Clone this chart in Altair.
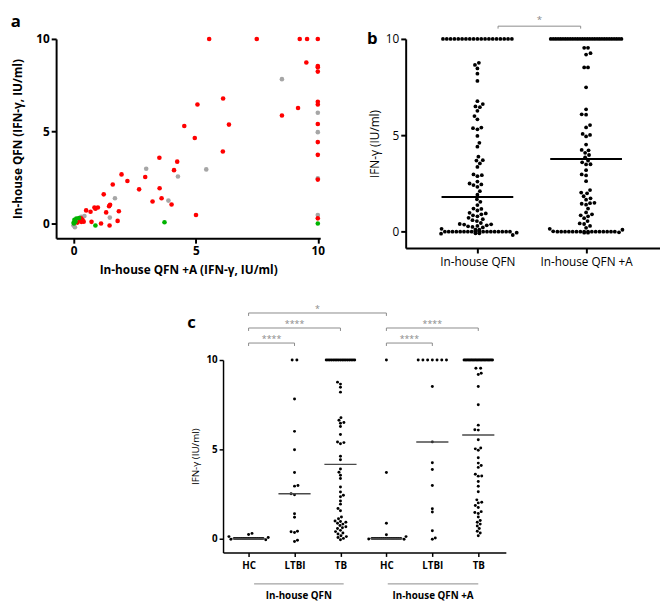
import altair as alt
import pandas as pd
from collections import Counter

FONT = "Open Sans"

# ---------------- Panel a: paired values (x = In-house QFN +A, y = In-house QFN) ----------------
tb_a_x = [5.55, 7.5, 9.26, 9.56, 10,
          9.53, 10, 10, 10, 10, 10, 10, 10, 10, 10, 10,
          9.19, 8.53, 6.36, 6.12, 5.07, 4.53, 4.96, 6.11, 3.51, 4.24, 4.11, 2.93, 2.68, 3.52, 3.6, 3.23, 4.01, 5.01,
          1.96, 2.2, 1.6, 1.23, 1.49, 1.45, 0.85, 0.99, 0.89, 0.69, 1.33, 1.85, 0.51, 1.8, 1.12, 0.73, 1.47,
          0.25, 0.36, 0.41, 0.31, 0.15, 0.3]
tb_a_y = [10, 10, 10, 10, 10,
          8.72, 8.53, 8.47, 8.23, 6.6, 6.45, 5.39, 4.41, 3.72, 2.38, 0.28,
          6.26, 5.85, 5.36, 6.77, 6.45, 5.28, 4.63, 3.9, 3.56, 3.35, 2.89, 2.52, 1.85, 1.91, 1.37, 1.19, 1.03, 0.46,
          2.66, 2.3, 2.11, 1.58, 1.01, 0.94, 0.87, 0.87, 0.8, 0.64, 0.6, 0.66, 0.71, 0.14, 0.0, 0.09, -0.11,
          0.23, 0.2, 0.1, 0.09, 0.05, 0.28]
ltbi_a_x = [8.53, 10, 10, 10, 10, 2.97, 5.43, 4.27, 1.69, 3.88, 1.48, 0.44, -0.01, 0.05, 0.31]
ltbi_a_y = [7.82, 6.0, 4.95, 2.45, 0.46, 2.97, 2.93, 2.55, 1.37, 1.24, 0.32, 0.41, -0.1, -0.2, 0.36]
hc_a_x = [10, 3.72, 0.89, 0.11, 0.07, 0.01, 0.03, 0.22, 0.0]
hc_a_y = [0, 0.07, -0.11, 0.27, 0.1, 0.0, 0.2, 0.3, 0.05]

# ---------------- Panel c (pooled for panel b) ----------------
qfn_hc = [0.28, 0.22, 0.10, 0.05, 0, 0, 0, 0, 0, 0, 0, 0, 0, 0, 0, 0, 0, 0, 0, 0, 0, -0.05, -0.08]
qfn_ltbi = [10, 10, 7.82, 6.0, 4.97, 3.69, 2.97, 2.93, 2.5, 2.45, 1.38, 1.18, 0.4, 0.37, 0.33, -0.1, -0.17]
qfn_tb = [10, 10, 10, 10, 10, 10, 10, 10, 10, 10, 10, 10, 10, 10, 10, 10, 10,
          8.76, 8.65, 8.47, 8.2, 6.77, 6.62, 6.5, 6.46, 6.27, 5.83, 5.4, 5.37, 5.31, 4.61, 4.41,
          3.89, 3.71, 3.54, 3.36, 2.88, 2.6, 2.42, 2.33, 2.1, 1.92, 1.68, 1.55,
          1.2, 1.1, 0.98, 0.95, 0.9, 0.85, 0.8, 0.72, 0.65, 0.6, 0.55, 0.45, 0.38, 0.3, 0.25, 0.15,
          0.1, 0.05, 0.0, -0.08]
qfna_hc = [10, 3.69, 0.85, 0.20, 0.10, 0, 0, 0, 0, 0, 0, 0, 0, 0, 0, 0, 0, 0, 0, 0, 0, -0.03, -0.05]
qfna_ltbi = [10, 10, 10, 10, 10, 10, 10, 8.52, 5.41, 4.24, 3.86, 2.97, 1.66, 1.48, 0.43, 0.02, -0.05]
qfna_tb = [10, 10, 10, 10, 10, 10, 10, 10, 10, 10, 10, 10, 10, 10, 10, 10, 10, 10, 10, 10, 10, 10,
           9.54, 9.54, 9.26, 9.19, 8.52, 7.49, 6.35, 6.09, 6.07, 5.53, 5.07, 5.02, 4.94, 4.52,
           4.22, 4.09, 3.98, 3.6, 3.5, 3.49, 3.19, 2.92, 2.62, 2.16,
           2.03, 1.99, 1.84, 1.73, 1.5, 1.45, 1.4, 1.2, 1.0, 0.9, 0.8, 0.7, 0.55, 0.4, 0.3, 0.15]

c_labels = ["HC", "LTBI", "TB", "HC", "LTBI", "TB"]
c_columns = [qfn_hc, qfn_ltbi, qfn_tb, qfna_hc, qfna_ltbi, qfna_tb]
assay_names = ["In-house QFN", "In-house QFN +A"]

# significance annotations: (from, to, stars, bracket level)
c_sig = [(0, 3, "*", 3), (0, 2, "****", 2), (0, 1, "****", 1),
         (3, 5, "****", 2), (3, 4, "****", 1)]
b_sig = [(0.19, 0.95, "*", 1)]
c_groups = [(0.12, 2.07, assay_names[0]), (3.03, 5.0, assay_names[1])]

GREY = "#8a8a8a"


# ---------------- helpers ----------------
def swarm(vals, ppu_y, diam, tie_step, max_w):
    n = len(vals)
    offs = [0.0] * n
    placed = []
    cnt = Counter(vals)
    for v in sorted(cnt):
        c = cnt[v]
        if c >= 2:
            s = min(tie_step, max_w / (c - 1))
            idx = [i for i in range(n) if vals[i] == v]
            for k, i in enumerate(idx):
                offs[i] = (k - (c - 1) / 2) * s
                placed.append((offs[i], v * ppu_y))
    order = sorted((i for i in range(n) if cnt[vals[i]] == 1), key=lambda i: vals[i])
    flip = 1
    for i in order:
        y = vals[i] * ppu_y
        k = 0
        found = None
        while found is None:
            cands = [0.0] if k == 0 else [flip * k * 0.5, -flip * k * 0.5]
            for x in cands:
                if all((x - px) ** 2 + (y - py) ** 2 >= diam * diam * 0.97 for px, py in placed):
                    found = x
                    break
            k += 1
        if found != 0:
            flip = -flip
        offs[i] = found
        placed.append((found, y))
    return offs


def lin(domain):
    return alt.Scale(domain=domain, nice=False, zero=False)


def text_layer(txt, x, y, size, weight="bold"):
    return alt.Chart(pd.DataFrame({"t": [txt]})).mark_text(
        text=txt, fontSize=size, fontWeight=weight, font=FONT, color="black",
        align="center", baseline="middle").encode(x=alt.value(x), y=alt.value(y))


def bracket_layers(ds, X, Y, fs, dy):
    h = alt.Chart(ds).mark_rule(color=GREY, strokeWidth=1).encode(x=X("x1:Q"), x2="x2:Q", y=Y("y:Q"))
    l = alt.Chart(ds).mark_rule(color=GREY, strokeWidth=1).encode(x=X("x1:Q"), y=Y("y:Q"), y2="yl:Q")
    r = alt.Chart(ds).mark_rule(color=GREY, strokeWidth=1).encode(x=X("x2:Q"), y=Y("y:Q"), y2="yl:Q")
    t = alt.Chart(ds).mark_text(color=GREY, fontSize=fs, font=FONT, baseline="alphabetic", dy=dy).encode(
        x=X("xm:Q"), y=Y("y:Q"), text="lab:N")
    return [h, l, r, t]


# ---------------- Panel a ----------------
A_W, A_H = 269, 203
a_dx, a_dy = [-0.72, 10.1], [-0.8, 10]
rows = []
for xs, ys, g in [(ltbi_a_x, ltbi_a_y, "LTBI"), (tb_a_x, tb_a_y, "TB"), (hc_a_x, hc_a_y, "HC")]:
    for xv, yv in zip(xs, ys):
        rows.append({"x": xv, "y": yv, "g": g})
dfa = pd.DataFrame(rows)
dfa["o"] = range(len(dfa))

axis_a = dict(domainColor="black", domainWidth=2, tickColor="black", tickWidth=2, tickSize=5,
              labelFontSize=12, labelFontWeight="bold", labelColor="black", labelFont=FONT,
              titleFontSize=12, titleFontWeight="bold", titleColor="black", titleFont=FONT, grid=False)
pts_a = alt.Chart(dfa).mark_circle(size=22, opacity=1).encode(
    x=alt.X("x:Q", scale=lin(a_dx), axis=alt.Axis(values=[0, 5, 10], title="In-house QFN +A (IFN-γ, IU/ml)",
                                                   titlePadding=8, labelPadding=3, **axis_a)),
    y=alt.Y("y:Q", scale=lin(a_dy), axis=alt.Axis(values=[0, 5, 10], title="In-house QFN (IFN-γ, IU/ml)",
                                                   titlePadding=12, **axis_a)),
    color=alt.Color("g:N", scale=alt.Scale(domain=["LTBI", "TB", "HC"], range=["#a6a6a6", "#ff0000", "#00b300"]),
                    legend=None),
    order=alt.Order("o:Q"),
)
chart_a = alt.layer(pts_a, text_layer("a", -41, -17, 17)).properties(width=A_W, height=A_H)

# ---------------- Panel b ----------------
B_W, B_H = 259, 213
b_dx, b_dy = [-0.66, 1.68], [-0.85, 10]
bx_ppu = B_W / (b_dx[1] - b_dx[0])
by_ppu = B_H / (b_dy[1] - b_dy[0])
rows = []
for k, vals in enumerate([qfn_hc + qfn_ltbi + qfn_tb, qfna_hc + qfna_ltbi + qfna_tb]):
    offs = swarm(vals, by_ppu, 4.3, 3.9, 72)
    for v, o in zip(vals, offs):
        rows.append({"cat": k, "v": v, "xp": k + o / bx_ppu})
dfb = pd.DataFrame(rows)

axis_b = dict(domainColor="black", domainWidth=2, tickColor="black", tickWidth=2, tickSize=5,
              labelFontSize=12, labelFontWeight="normal", labelColor="black", labelFont=FONT,
              titleFontSize=12, titleFontWeight="normal", titleColor="black", titleFont=FONT, grid=False)
b_xaxis = alt.Axis(values=[0, 1], title=None, labelPadding=4,
                   labelExpr="datum.value == 0 ? '%s' : '%s'" % (assay_names[0], assay_names[1]), **axis_b)
b_yaxis = alt.Axis(values=[0, 5, 10], title="IFN-γ (IU/ml)", titlePadding=4, **axis_b)


def XB(f):
    return alt.X(f, scale=lin(b_dx), axis=b_xaxis)


def YB(f):
    return alt.Y(f, scale=lin(b_dy), axis=b_yaxis)


pts_b = alt.Chart(dfb).mark_circle(size=15, color="black", opacity=1).encode(x=XB("xp:Q"), y=YB("v:Q"))
med_b = alt.Chart(dfb).transform_aggregate(med="median(v)", groupby=["cat"]).transform_calculate(
    x1="datum.cat - 0.33", x2="datum.cat + 0.33").mark_rule(color="black", strokeWidth=2).encode(
    x=XB("x1:Q"), x2="x2:Q", y=YB("med:Q"))
dsb = pd.DataFrame([{"x1": a, "x2": b, "lab": s, "y": 10 + 13 * lv / by_ppu, "yl": 10 + (13 * lv - 2.5) / by_ppu,
                     "xm": (a + b) / 2} for a, b, s, lv in b_sig])
chart_b = alt.layer(pts_b, med_b, *bracket_layers(dsb, XB, YB, 10, -3),
                    text_layer("b", -34, 0, 17)).properties(width=B_W, height=B_H)

# ---------------- Panel c ----------------
C_W, C_H = 288, 196
c_dx, c_dy = [-0.556, 5.6], [-0.79, 10]
cx_ppu = C_W / (c_dx[1] - c_dx[0])
cy_ppu = C_H / (c_dy[1] - c_dy[0])
rows = []
for k, vals in enumerate(c_columns):
    offs = swarm(vals, cy_ppu, 3.3, 4.8, 29)
    for v, o in zip(vals, offs):
        rows.append({"cat": k, "v": v, "xp": k + o / cx_ppu})
dfc = pd.DataFrame(rows)

label_expr = "[" + ",".join("'%s'" % s for s in c_labels) + "][datum.value]"
axis_c = dict(domainColor="black", domainWidth=1.5, tickColor="black", tickWidth=1.5, tickSize=4,
              labelFontSize=10, labelFontWeight="bold", labelColor="black", labelFont=FONT,
              titleFontSize=10, titleFontWeight="normal", titleColor="black", titleFont=FONT, grid=False)
c_xaxis = alt.Axis(values=list(range(6)), title=None, labelExpr=label_expr, labelPadding=4, **axis_c)
c_yaxis = alt.Axis(values=[0, 5, 10], title="IFN-γ (IU/ml)", titlePadding=6, **axis_c)


def XC(f):
    return alt.X(f, scale=lin(c_dx), axis=c_xaxis)


def YC(f):
    return alt.Y(f, scale=lin(c_dy), axis=c_yaxis)


pts_c = alt.Chart(dfc).mark_circle(size=9, color="black", opacity=1).encode(x=XC("xp:Q"), y=YC("v:Q"))
med_c = alt.Chart(dfc).transform_aggregate(med="median(v)", groupby=["cat"]).transform_calculate(
    x1="datum.cat - 0.35", x2="datum.cat + 0.35").mark_rule(color="#4a4a4a", strokeWidth=1.5).encode(
    x=XC("x1:Q"), x2="x2:Q", y=YC("med:Q"))
dsc = pd.DataFrame([{"x1": a, "x2": b, "lab": s, "y": 10 + (2 + 15.3 * lv) / cy_ppu,
                     "yl": 10 + (2 + 15.3 * lv - 3) / cy_ppu, "xm": (a + b) / 2} for a, b, s, lv in c_sig])
dg = pd.DataFrame([{"x1": a, "x2": b, "lab": s, "xm": (a + b) / 2,
                    "yline": c_dy[0] - 32 / cy_ppu, "ytext": c_dy[0] - 44 / cy_ppu} for a, b, s in c_groups])
grp_line = alt.Chart(dg).mark_rule(color=GREY, strokeWidth=1).encode(x=XC("x1:Q"), x2="x2:Q", y=YC("yline:Q"))
grp_text = alt.Chart(dg).mark_text(color="black", fontSize=10, fontWeight="bold", font=FONT,
                                   baseline="middle").encode(x=XC("xm:Q"), y=YC("ytext:Q"), text="lab:N")

chart_c = alt.layer(pts_c, med_c, *bracket_layers(dsc, XC, YC, 9, -1), grp_line, grp_text,
                    text_layer("c", -32, -38, 17)).properties(width=C_W, height=C_H)

spacer = alt.Chart(pd.DataFrame({"s": [0]})).mark_point(opacity=0, size=1).encode(
    x=alt.value(3), y=alt.value(3)).properties(width=133, height=5)

top = alt.hconcat(chart_a, chart_b, spacing=42)
bottom = alt.hconcat(spacer, chart_c, spacing=0)
chart = alt.vconcat(top, bottom, spacing=30).properties(
    padding={"left": 2, "top": 0, "right": 0, "bottom": 0}).configure(
    font=FONT, view=alt.ViewConfig(stroke=None))

chart.save("out.html", embed_options={"renderer": "svg", "actions": False})
